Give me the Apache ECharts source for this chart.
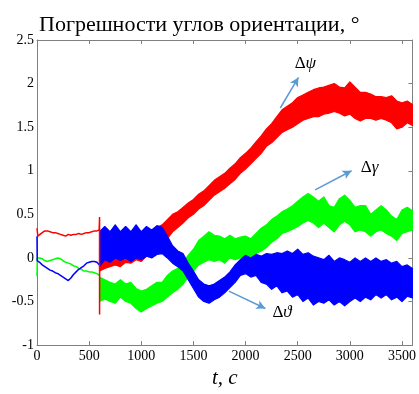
<!DOCTYPE html>
<html>
<head>
<meta charset="utf-8">
<script src="https://cdn.jsdelivr.net/npm/echarts@6/dist/echarts.min.js"></script>
<style>
  html, body { margin: 0; padding: 0; background: #fff; }
  #chart { width: 419px; height: 394px; }
</style>
</head>
<body>
<div id="chart"></div>
<script>
// Orientation angle errors, degrees, versus time, seconds.

// Axis ticks
const xTicks = [0, 500, 1000, 1500, 2000, 2500, 3000, 3500];
const yTicks = [-1, -0.5, 0, 0.5, 1, 1.5, 2, 2.5];

// Alignment phase (0 .. 600 s): thin traces [t, value]
const psiStart = [[0,0.34],[8,0.25],[25,0.26],[50,0.29],[75,0.31],[100,0.31],[125,0.30],[150,0.29],[175,0.29],[200,0.28],[225,0.27],[250,0.26],[275,0.25],[300,0.27],[325,0.26],[350,0.27],[375,0.27],[400,0.28],[425,0.27],[450,0.28],[475,0.29],[500,0.29],[525,0.30],[550,0.31],[575,0.31],[596,0.32]];
const gammaStart = [[0,-0.21],[3,0.0],[25,0.0],[50,-0.01],[75,-0.03],[100,-0.04],[125,-0.03],[150,-0.02],[175,-0.01],[200,0.0],[225,-0.01],[250,-0.03],[275,-0.05],[300,-0.06],[325,-0.07],[350,-0.09],[375,-0.10],[400,-0.12],[425,-0.13],[450,-0.15],[475,-0.15],[500,-0.16],[525,-0.16],[550,-0.17],[575,-0.18],[598,-0.20]];
const thetaStart = [[0,0.25],[2,-0.03],[25,-0.05],[50,-0.08],[75,-0.10],[100,-0.12],[125,-0.14],[150,-0.15],[175,-0.17],[200,-0.18],[225,-0.20],[250,-0.22],[275,-0.24],[300,-0.26],[325,-0.23],[350,-0.19],[375,-0.16],[400,-0.13],[425,-0.11],[450,-0.09],[475,-0.06],[500,-0.05],[525,-0.04],[550,-0.04],[575,-0.05],[598,-0.08]];
// Transient of the heading error at the switch to navigation mode
const psiSwitch = [[596,0.32],[600,0.47],[600,-0.65],[601,-0.12]];

// Navigation phase (600 .. 3600 s): oscillating traces given by lower / upper envelopes
const tNav = [600,650,700,750,800,850,900,950,1000,1050,1100,1150,1200,1250,1300,1350,1400,1450,1500,1550,1600,1650,1700,1750,1800,1850,1900,1950,2000,2050,2100,2150,2200,2250,2300,2350,2400,2450,2500,2550,2600,2650,2700,2750,2800,2850,2900,2950,3000,3050,3100,3150,3200,3250,3300,3350,3400,3450,3500,3550,3600];

const psiLow  = [-0.15,-0.12,-0.10,-0.08,-0.10,-0.05,-0.06,-0.02,-0.04,0.02,0.05,0.10,0.14,0.22,0.30,0.35,0.40,0.46,0.50,0.56,0.60,0.66,0.72,0.76,0.80,0.85,0.90,0.97,1.02,1.08,1.14,1.20,1.28,1.32,1.38,1.44,1.47,1.50,1.54,1.58,1.60,1.62,1.62,1.65,1.66,1.68,1.66,1.63,1.65,1.60,1.57,1.60,1.60,1.58,1.60,1.58,1.55,1.48,1.50,1.55,1.52];
const psiHigh = [0.10,0.08,0.12,0.14,0.10,0.20,0.15,0.20,0.18,0.26,0.30,0.35,0.38,0.44,0.50,0.53,0.58,0.63,0.67,0.73,0.77,0.83,0.89,0.93,0.97,1.03,1.08,1.15,1.20,1.26,1.33,1.40,1.48,1.54,1.62,1.70,1.74,1.78,1.84,1.87,1.90,1.93,1.95,1.96,1.98,2.00,1.96,1.95,2.02,1.96,1.90,1.90,1.88,1.85,1.85,1.84,1.86,1.80,1.78,1.80,1.76];

const gammaLow  = [-0.50,-0.47,-0.50,-0.52,-0.45,-0.50,-0.52,-0.58,-0.62,-0.58,-0.55,-0.52,-0.50,-0.45,-0.40,-0.36,-0.30,-0.22,-0.15,-0.08,-0.05,-0.02,-0.04,-0.02,-0.06,0.00,-0.02,0.00,0.00,0.00,0.05,0.08,0.12,0.18,0.22,0.28,0.30,0.33,0.36,0.40,0.43,0.40,0.35,0.40,0.35,0.30,0.38,0.42,0.38,0.30,0.32,0.30,0.25,0.30,0.32,0.28,0.25,0.20,0.28,0.30,0.32];
const gammaHigh = [-0.22,-0.25,-0.28,-0.30,-0.25,-0.30,-0.28,-0.35,-0.38,-0.36,-0.32,-0.28,-0.28,-0.20,-0.15,-0.12,-0.05,0.03,0.10,0.20,0.25,0.30,0.26,0.25,0.22,0.26,0.22,0.24,0.25,0.22,0.28,0.34,0.38,0.44,0.48,0.53,0.56,0.60,0.65,0.70,0.74,0.70,0.65,0.70,0.60,0.58,0.68,0.72,0.66,0.58,0.60,0.60,0.50,0.55,0.60,0.55,0.48,0.44,0.55,0.58,0.54];

const thetaLow  = [-0.10,-0.02,-0.05,0.00,-0.03,0.00,-0.04,0.00,-0.02,0.02,0.00,0.04,0.05,0.00,-0.06,-0.10,-0.15,-0.25,-0.35,-0.45,-0.50,-0.52,-0.48,-0.45,-0.40,-0.34,-0.28,-0.20,-0.18,-0.22,-0.20,-0.28,-0.30,-0.36,-0.32,-0.40,-0.38,-0.45,-0.42,-0.50,-0.46,-0.54,-0.50,-0.52,-0.48,-0.54,-0.50,-0.55,-0.50,-0.46,-0.50,-0.45,-0.48,-0.42,-0.46,-0.42,-0.48,-0.45,-0.50,-0.44,-0.46];
const thetaHigh = [0.30,0.36,0.30,0.38,0.30,0.36,0.30,0.38,0.30,0.36,0.32,0.37,0.35,0.25,0.14,0.08,0.05,-0.06,-0.15,-0.25,-0.30,-0.32,-0.30,-0.26,-0.22,-0.16,-0.08,-0.02,0.03,0.00,0.04,0.02,0.05,0.04,0.06,0.05,0.08,0.05,0.10,0.04,0.06,0.02,0.00,-0.02,0.03,-0.04,0.00,-0.02,-0.05,0.00,-0.04,0.00,-0.04,0.00,-0.04,-0.02,-0.06,-0.04,-0.10,-0.08,-0.12];

const RED = '#ff0000', GREEN = '#00ff00', BLUE = '#0000ff', NOTE = '#5b9bd5';
const AXIS = '#808080';
const SERIF = "'Liberation Serif', 'DejaVu Serif', serif";

// Filled band between two envelopes, drawn as one polygon in data coordinates
function band(low, high, color) {
  const rows = tNav.map((t, i) => [t, low[i], high[i]]);
  return {
    type: 'custom', silent: true, animation: false,
    coordinateSystem: 'cartesian2d',
    encode: { x: 0, y: [1, 2] },
    clip: true,
    data: rows,
    renderItem: function (params, api) {
      if (params.dataIndex !== 0) return null;
      const pts = [];
      for (let i = 0; i < rows.length; i++) pts.push(api.coord([rows[i][0], rows[i][2]]));
      for (let i = rows.length - 1; i >= 0; i--) pts.push(api.coord([rows[i][0], rows[i][1]]));
      return {
        type: 'polygon',
        shape: { points: pts },
        style: { fill: color, stroke: color, lineWidth: 1.2, lineJoin: 'round' }
      };
    }
  };
}

function trace(data, color, extra) {
  return Object.assign({
    type: 'line', data: data, symbol: 'none', silent: true, animation: false,
    lineStyle: { color: color, width: 1.5 }
  }, extra || {});
}

const labelRich = {
  d: { fontFamily: SERIF, fontSize: 17, color: '#000' },
  g: { fontFamily: SERIF, fontSize: 17, fontStyle: 'italic', color: '#000' }
};

const series = [
  band(gammaLow, gammaHigh, GREEN),
  trace(gammaStart, GREEN),
  band(psiLow, psiHigh, RED),
  trace(psiStart, RED),
  band(thetaLow, thetaHigh, BLUE),
  trace(thetaStart, BLUE),
  trace(psiSwitch, RED, {
    markLine: {
      silent: true, animation: false,
      symbol: ['none', 'arrow'], symbolSize: [7, 9],
      lineStyle: { color: NOTE, width: 1.5, type: 'solid' },
      label: { show: false },
      data: [
        [{ coord: [2333, 1.72] }, { coord: [2507, 2.07] }],
        [{ coord: [2667, 0.78] }, { coord: [3016, 1.00] }],
        [{ coord: [1840, -0.38] }, { coord: [2190, -0.58] }]
      ]
    },
    markPoint: {
      silent: true, animation: false, symbol: 'circle', symbolSize: 0,
      label: { show: true, position: 'inside', rich: labelRich },
      data: [
        { coord: [2574, 2.23], label: { formatter: '{d|Δ}{g|ψ}' } },
        { coord: [3190, 1.04], label: { formatter: '{d|Δ}{g|γ}' } },
        { coord: [2350, -0.63], label: { formatter: '{d|Δ}{g|ϑ}' } }
      ]
    }
  })
];

const plain = v => String(v);

const chart = echarts.init(document.getElementById('chart'), null, { renderer: 'canvas' });
chart.setOption({
  animation: false,
  backgroundColor: '#fff',
  title: {
    text: 'Погрешности углов ориентации, °',
    left: 34, top: 9,
    textStyle: { fontFamily: SERIF, fontSize: 22, fontWeight: 'normal', color: '#000' }
  },
  grid: { left: 37, right: 5, top: 40, bottom: 32, containLabel: false },
  xAxis: [
    {
      type: 'value', min: 0, max: 3600, interval: 500, position: 'bottom',
      name: 't, c', nameLocation: 'middle', nameGap: 13,
      nameTextStyle: { fontFamily: SERIF, fontSize: 21, fontStyle: 'italic', color: '#000',
        verticalAlign: 'top' },
      axisLine: { show: true, onZero: false, lineStyle: { color: AXIS, width: 1 } },
      axisTick: { show: true, inside: true, length: 4, lineStyle: { color: AXIS } },
      axisLabel: { fontFamily: SERIF, fontSize: 14, color: '#000', margin: 4,
        customValues: xTicks, formatter: plain },
      splitLine: { show: false }
    },
    {
      type: 'value', min: 0, max: 3600, interval: 500, position: 'top',
      axisLine: { show: true, onZero: false, lineStyle: { color: AXIS, width: 1 } },
      axisTick: { show: true, inside: true, length: 4, lineStyle: { color: AXIS } },
      axisLabel: { show: false },
      splitLine: { show: false }
    }
  ],
  yAxis: [
    {
      type: 'value', min: -1, max: 2.5, interval: 0.5, position: 'left',
      axisLine: { show: true, onZero: false, lineStyle: { color: AXIS, width: 1 } },
      axisTick: { show: false },
      axisLabel: { fontFamily: SERIF, fontSize: 14, color: '#000', margin: 3,
        customValues: yTicks, formatter: plain },
      splitLine: { show: false }
    },
    {
      type: 'value', min: -1, max: 2.5, interval: 0.5, position: 'right',
      axisLine: { show: true, onZero: false, lineStyle: { color: AXIS, width: 1 } },
      axisTick: { show: true, inside: true, length: 4, lineStyle: { color: AXIS } },
      axisLabel: { show: false },
      splitLine: { show: false }
    }
  ],
  series: series
});
</script>
</body>
</html>
